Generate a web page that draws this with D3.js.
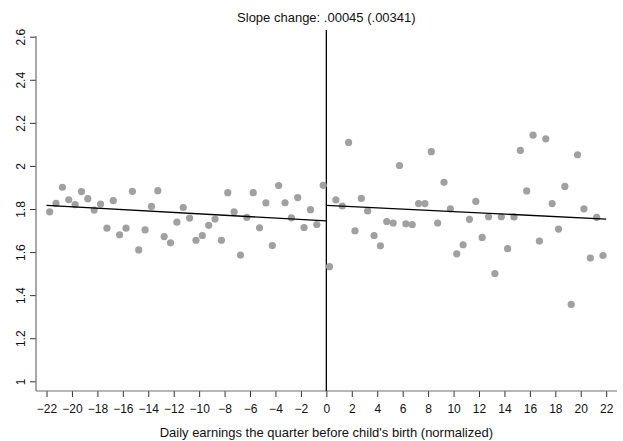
<!DOCTYPE html>
<html>
<head>
<meta charset="utf-8">
<script src="https://cdn.jsdelivr.net/npm/d3@7"></script>
<style>
  html, body { margin: 0; padding: 0; background: #fff; }
  svg { display: block; font-family: "Liberation Sans", Arial, sans-serif; }
</style>
</head>
<body>
<svg id="chart" width="623" height="441"></svg>
<script>
// Bin centres (0.5-wide bins) on each side of the cutoff
const binsBefore = d3.range(44).map(i => -21.75 + i * 0.5);
const binsAfter  = d3.range(44).map(i => 0.25 + i * 0.5);

// Mean outcome per bin, left of the cutoff
const valuesBefore = [
  1.787, 1.826, 1.901, 1.843, 1.820, 1.881, 1.848, 1.795, 1.823, 1.711,
  1.839, 1.680, 1.711, 1.882, 1.610, 1.703, 1.812, 1.885, 1.672, 1.643,
  1.739, 1.807, 1.758, 1.655, 1.677, 1.724, 1.753, 1.655, 1.876, 1.787,
  1.586, 1.761, 1.876, 1.713, 1.828, 1.630, 1.909, 1.829, 1.759, 1.853,
  1.714, 1.797, 1.728, 1.910
];

// Mean outcome per bin, right of the cutoff
const valuesAfter = [
  1.532, 1.842, 1.814, 2.109, 1.699, 1.849, 1.791, 1.677, 1.629, 1.742,
  1.735, 2.002, 1.731, 1.728, 1.825, 1.825, 2.066, 1.735, 1.924, 1.801,
  1.592, 1.634, 1.752, 1.835, 1.668, 1.764, 1.500, 1.764, 1.616, 1.763,
  2.072, 1.884, 2.143, 1.651, 2.126, 1.825, 1.707, 1.905, 1.357, 2.052,
  1.801, 1.572, 1.761, 1.584
];

// Linear fits on each side: [intercept at 0, slope]
const fitBefore = [1.745, -0.00327];
const fitAfter  = [1.817, -0.00291];
const fitRangeBefore = [-22, 0];
const fitRangeAfter  = [0, 22];

const xTicks = d3.range(-22, 23, 2);
const yTicks = [1, 1.2, 1.4, 1.6, 1.8, 2, 2.2, 2.4, 2.6];

const titleText = "Slope change: .00045 (.00341)";
const xTitle = "Daily earnings the quarter before child's birth (normalized)";

const svg = d3.select("#chart");

const x = d3.scaleLinear().domain([-22, 22]).range([46.5, 606.2]);
const y = d3.scaleLinear().domain([1, 2.6]).range([381.3, 36.7]);

const axisLeftX = 36;
const axisBottomY = 391;
const axisColor = "#6e6e6e";

// Y axis
const gy = svg.append("g").attr("transform", `translate(${axisLeftX},0)`)
  .call(d3.axisLeft(y).tickValues(yTicks).tickSize(6).tickPadding(4)
    .tickFormat(d => d3.format("")(d)));
gy.select(".domain").remove();
gy.append("line").attr("x1", 0).attr("x2", 0)
  .attr("y1", 36).attr("y2", axisBottomY)
  .attr("stroke", axisColor).attr("stroke-width", 1.2);
gy.selectAll(".tick line").attr("stroke", "#333");
gy.selectAll(".tick text")
  .attr("font-size", 12).attr("fill", "#111")
  .attr("text-anchor", "middle")
  .attr("x", 0).attr("dy", 0)
  .attr("transform", "translate(-15,0) rotate(-90)")
  .attr("dominant-baseline", "central");

// X axis
const gx = svg.append("g").attr("transform", `translate(0,${axisBottomY})`)
  .call(d3.axisBottom(x).tickValues(xTicks).tickSize(6).tickPadding(7));
gx.select(".domain").remove();
gx.append("line").attr("x1", axisLeftX).attr("x2", 617)
  .attr("y1", 0).attr("y2", 0)
  .attr("stroke", axisColor).attr("stroke-width", 1.2);
gx.selectAll(".tick line").attr("stroke", "#333");
gx.selectAll(".tick text").attr("font-size", 12).attr("fill", "#111");

// Cutoff line
svg.append("line")
  .attr("x1", x(0)).attr("x2", x(0))
  .attr("y1", 30).attr("y2", axisBottomY)
  .attr("stroke", "#000").attr("stroke-width", 1.3);

// Binned scatter
const pts = binsBefore.map((b, i) => ({ b, v: valuesBefore[i] }))
  .concat(binsAfter.map((b, i) => ({ b, v: valuesAfter[i] })));
svg.append("g").selectAll("circle").data(pts).join("circle")
  .attr("cx", d => x(d.b)).attr("cy", d => y(d.v))
  .attr("r", 3.6).attr("fill", "#a0a0a0");

// Fitted lines
const line = d3.line().x(d => x(d[0])).y(d => y(d[1]));
[[fitBefore, fitRangeBefore], [fitAfter, fitRangeAfter]].forEach(([f, r]) => {
  svg.append("path")
    .attr("d", line(r.map(t => [t, f[0] + f[1] * t])))
    .attr("fill", "none").attr("stroke", "#000").attr("stroke-width", 1.4);
});

// Title and axis title
svg.append("text").attr("x", x(0)).attr("y", 22)
  .attr("text-anchor", "middle").attr("font-size", 13).attr("fill", "#111")
  .text(titleText);
svg.append("text").attr("x", x(0)).attr("y", 437)
  .attr("text-anchor", "middle").attr("font-size", 13).attr("fill", "#111")
  .text(xTitle);
</script>
</body>
</html>
